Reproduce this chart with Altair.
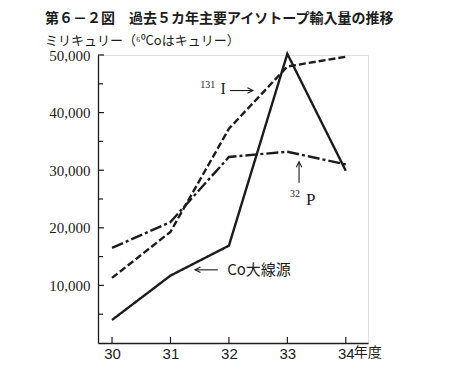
import altair as alt
import pandas as pd

years = [30, 31, 32, 33, 34]
co_vals = [4000, 11700, 16900, 50200, 29900]
i_vals = [11300, 19300, 37200, 48000, 49700]
p_vals = [16500, 21000, 32300, 33200, 31000]
series_names = ["Co", "I131", "P32"]

ytick_major = [10000, 20000, 30000, 40000, 50000]
ytick_minor = [5000, 15000, 25000, 35000, 45000]

ann_serif_text = ["131", "I", "32", "P"]
ann_serif_x = [31.64, 31.90, 33.13, 33.40]
ann_serif_y = [44870, 44170, 25900, 24870]
ann_serif_fs = [10, 16, 10, 17]

ann_cjk_text = ["Co大線源"]
ann_cjk_x = [31.97]
ann_cjk_y = [12700]

arrow_x = [32.02, 33.20, 31.42]
arrow_x2 = [32.41, 33.20, 31.81]
arrow_y = [43830, 27830, 12700]
arrow_y2 = [43830, 31480, 12700]
head_x = [32.41, 33.20, 31.42]
head_y = [43830, 31480, 12700]
head_angle = [0, 270, 180]

INK = "#1c1c1c"

rows = []
for name, vals in zip(series_names, [co_vals, i_vals, p_vals]):
    for yr, v in zip(years, vals):
        rows.append({"year": yr, "value": v, "series": name})
df = pd.DataFrame(rows)

xscale = alt.Scale(domain=[29.76, 34.38], nice=False, zero=False)
yscale = alt.Scale(domain=[0, 50000], nice=False)

xax = alt.Axis(values=years, tickSize=0, labelFont="Liberation Sans", labelFontSize=15,
               labelColor=INK, domainColor=INK, domainWidth=1.3, grid=False,
               labelPadding=3, title=None, format="d")
yax = alt.Axis(values=ytick_major, tickSize=0, labelFont="Liberation Serif", labelFontSize=15,
               labelColor=INK, domainColor=INK, domainWidth=1.3, grid=False,
               labelPadding=8, title=None, format=",.0f")

lines = alt.Chart(df).mark_line(strokeWidth=2.4, color=INK).encode(
    x=alt.X("year:Q", scale=xscale, axis=xax),
    y=alt.Y("value:Q", scale=yscale, axis=yax),
    strokeDash=alt.StrokeDash("series:N", scale=alt.Scale(domain=series_names,
                              range=[[1, 0], [7, 3], [12, 3, 3, 3]]), legend=None),
    detail="series:N",
)

ymaj = alt.Chart(pd.DataFrame({"v": ytick_major})).mark_rule(color=INK, strokeWidth=1.2).encode(
    y=alt.Y("v:Q", scale=yscale), x=alt.value(0), x2=alt.value(6))
ymin = alt.Chart(pd.DataFrame({"v": ytick_minor})).mark_rule(color=INK, strokeWidth=1.2).encode(
    y=alt.Y("v:Q", scale=yscale), x=alt.value(0), x2=alt.value(5))
xt = alt.Chart(pd.DataFrame({"yr": years})).mark_rule(color=INK, strokeWidth=1.2).encode(
    x=alt.X("yr:Q", scale=xscale), y=alt.value(288), y2=alt.value(282))

nendo = alt.Chart(pd.DataFrame({"x": [34], "y": [0], "t": ["年度"]})).mark_text(
    font="Noto Sans CJK JP", fontSize=14, align="left", baseline="middle", dx=8, dy=10, color=INK
).encode(x=alt.X("x:Q", scale=xscale), y=alt.Y("y:Q", scale=yscale), text="t:N")

ann_serif = alt.Chart(pd.DataFrame({"x": ann_serif_x, "y": ann_serif_y, "t": ann_serif_text,
                                    "fs": ann_serif_fs})).mark_text(
    font="Liberation Serif", align="center", baseline="middle", color=INK
).encode(x=alt.X("x:Q", scale=xscale), y=alt.Y("y:Q", scale=yscale), text="t:N",
         size=alt.Size("fs:Q", scale=None, legend=None))

ann_cjk = alt.Chart(pd.DataFrame({"x": ann_cjk_x, "y": ann_cjk_y, "t": ann_cjk_text})).mark_text(
    font="Noto Sans CJK JP", fontSize=15, align="left", baseline="middle", color=INK
).encode(x=alt.X("x:Q", scale=xscale), y=alt.Y("y:Q", scale=yscale), text="t:N")

shafts = alt.Chart(pd.DataFrame({"x": arrow_x, "x2": arrow_x2, "y": arrow_y, "y2": arrow_y2})).mark_rule(
    color=INK, strokeWidth=1.1
).encode(x=alt.X("x:Q", scale=xscale), x2="x2:Q", y=alt.Y("y:Q", scale=yscale), y2="y2:Q")

heads = alt.Chart(pd.DataFrame({"x": head_x, "y": head_y, "a": head_angle})).mark_point(
    shape="M-1,-0.5L0,0L-1,0.5", filled=False, color=INK, strokeWidth=1.1, size=120, opacity=1
).encode(x=alt.X("x:Q", scale=xscale), y=alt.Y("y:Q", scale=yscale),
         angle=alt.Angle("a:Q", scale=None))

chart = alt.layer(lines, ymaj, ymin, xt, nendo, ann_serif, ann_cjk, shafts, heads).properties(
    width=270, height=288,
    autosize=alt.AutoSizeParams(type="none"),
    padding={"left": 90, "top": 47, "right": 89, "bottom": 21},
    title=alt.TitleParams(
        text="第６－２図　過去５カ年主要アイソトープ輸入量の推移",
        subtitle="ミリキュリー（⁶⁰Coはキュリー）",
        anchor="start", frame="group", dx=-53, offset=0,
        font="Noto Sans CJK JP", fontSize=14, fontWeight="bold", color=INK,
        subtitleFont="Noto Sans CJK JP", subtitleFontSize=13, subtitleColor=INK,
        subtitlePadding=9,
    ),
).configure_view(stroke=None).configure(background="white")

chart.save("out.html", embed_options={"renderer": "svg", "actions": False})
